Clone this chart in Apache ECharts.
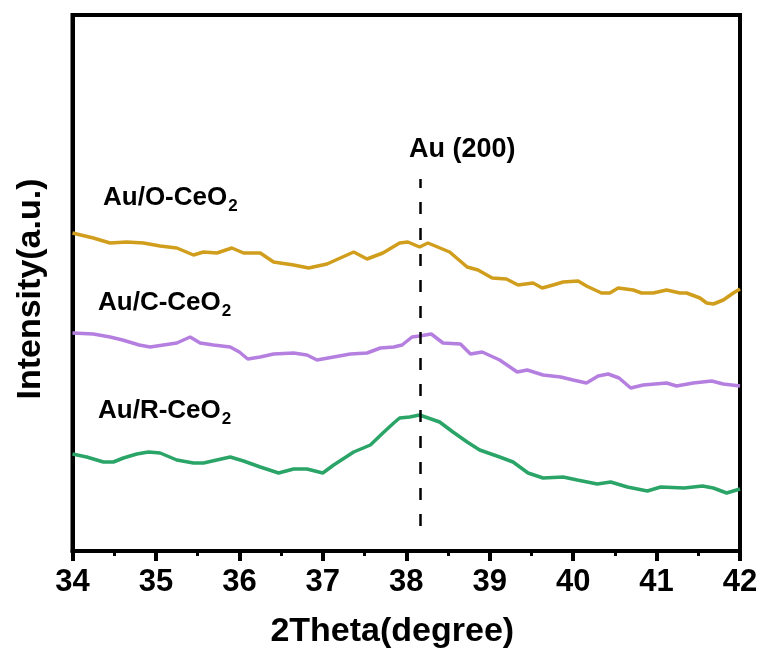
<!DOCTYPE html>
<html>
<head>
<meta charset="utf-8">
<script src="https://cdn.jsdelivr.net/npm/echarts@6/dist/echarts.min.js"></script>
<style>
html,body{margin:0;padding:0;background:#fff;}
#chart{width:764px;height:659px;}
</style>
</head>
<body>
<div id="chart"></div>
<script>
// 2Theta (degree) positions and intensities (a.u.)
var theta_O = [34.00,34.25,34.45,34.65,34.85,35.05,35.25,35.45,35.57,35.73,35.91,36.05,36.25,36.41,36.65,36.83,37.05,37.21,37.37,37.53,37.72,37.92,38.02,38.16,38.26,38.52,38.73,38.86,39.03,39.20,39.34,39.52,39.63,39.76,39.88,40.06,40.16,40.34,40.44,40.54,40.72,40.82,40.96,41.12,41.28,41.36,41.52,41.60,41.68,41.80,41.92,42.00];
var int_O   = [318,313,308,309,308,305,303,296,299,298,303,298,298,289,286,283,287,293,299,292,298,308,309,304,308,299,284,281,273,272,266,268,263,266,269,270,265,258,258,263,261,258,258,261,258,258,253,248,247,251,258,262];

var theta_C = [34.00,34.25,34.45,34.60,34.80,34.93,35.09,35.25,35.41,35.53,35.69,35.89,36.00,36.10,36.25,36.41,36.65,36.81,36.93,37.13,37.33,37.53,37.69,37.85,37.95,38.07,38.16,38.30,38.44,38.65,38.77,38.91,39.12,39.33,39.45,39.64,39.85,40.00,40.16,40.30,40.42,40.55,40.69,40.84,41.12,41.24,41.44,41.66,41.80,42.00];
var int_C   = [218,217,214,211,206,204,206,208,214,208,206,204,199,192,194,197,198,196,191,194,197,198,203,204,206,214,215,217,208,207,197,199,191,179,181,176,174,171,168,175,177,173,163,166,168,165,168,170,167,165];

var theta_R = [34.00,34.17,34.37,34.49,34.61,34.77,34.91,35.05,35.25,35.45,35.57,35.73,35.89,36.05,36.25,36.47,36.65,36.81,37.00,37.13,37.37,37.57,37.72,37.85,37.92,38.04,38.16,38.40,38.56,38.73,38.88,39.12,39.28,39.46,39.64,39.88,40.05,40.29,40.45,40.65,40.89,41.05,41.33,41.55,41.68,41.84,42.00];
var int_R   = [97,94,89,89,93,97,99,98,91,88,88,91,94,90,84,78,82,82,78,86,99,106,118,128,133,134,136,129,119,109,101,94,89,78,73,74,71,67,69,64,60,64,63,65,63,58,62];

var xTicks = [34,35,36,37,38,39,40,41,42];
var seriesNames = ['Au/O-CeO2','Au/C-CeO2','Au/R-CeO2'];
var peakTheta = 38.17;
var peakLineRange = [25, 372];
var peakLabel = 'Au (200)';

function pairs(xs, ys){ return xs.map(function(x,i){ return [x, ys[i]]; }); }

var FONT = "'Liberation Sans', Arial, Helvetica, sans-serif";
var chart = echarts.init(document.getElementById('chart'));

var subRich = {
  m: {fontSize: 26, fontWeight: 'bold', fontFamily: FONT, color: '#000', lineHeight: 30},
  s: {fontSize: 17, fontWeight: 'bold', fontFamily: FONT, color: '#000', lineHeight: 17, padding: [15,0,0,1], verticalAlign: 'top'}
};
function lbl(name, x, y){
  var base = name.slice(0, -1), sub = name.slice(-1);
  return {type: 'text', left: x, top: y, z: 100,
    style: {text: '{m|' + base + '}{s|' + sub + '}', rich: subRich}};
}

chart.setOption({
  animation: false,
  backgroundColor: '#fff',
  grid: {left: 72.5, right: 24, top: 15, bottom: 108, show: true, borderColor: '#000', borderWidth: 4, backgroundColor: 'transparent'},
  xAxis: {
    type: 'value', min: 34, max: 42, interval: 1,
    name: '2Theta(degree)', nameLocation: 'middle', nameGap: 64,
    nameTextStyle: {fontSize: 34, fontWeight: 'bold', fontFamily: FONT, color: '#000', padding: [0, 28, 0, 0]},
    axisLine: {show: true, lineStyle: {color: '#000', width: 4}},
    axisTick: {show: true, inside: false, length: 10, lineStyle: {color: '#000', width: 4}},
    minorTick: {show: true, splitNumber: 2, length: 5, lineStyle: {color: '#000', width: 3}},
    axisLabel: {fontSize: 31, fontWeight: 'bold', fontFamily: FONT, color: '#000', margin: 16,
      formatter: function(v){ return xTicks.indexOf(v) >= 0 ? String(v) : ''; }},
    splitLine: {show: false}
  },
  yAxis: {
    type: 'value', min: 0, max: 536,
    name: 'Intensity(a.u.)', nameLocation: 'middle', nameGap: 25,
    nameTextStyle: {fontSize: 34, fontWeight: 'bold', fontFamily: FONT, color: '#000', padding: [0, 12, 0, 0]},
    axisLine: {show: true, lineStyle: {color: '#000', width: 4}},
    axisTick: {show: false}, axisLabel: {show: false}, splitLine: {show: false}
  },
  series: [
    {name: seriesNames[0], type: 'line', data: pairs(theta_O, int_O), showSymbol: false, smooth: false,
     lineStyle: {color: '#D09E1C', width: 3.5}},
    {name: seriesNames[1], type: 'line', data: pairs(theta_C, int_C), showSymbol: false, smooth: false,
     lineStyle: {color: '#B57FE0', width: 3.5}},
    {name: seriesNames[2], type: 'line', data: pairs(theta_R, int_R), showSymbol: false, smooth: false,
     lineStyle: {color: '#2BA468', width: 3.5},
     markLine: {symbol: 'none', silent: true, label: {show: false},
       lineStyle: {color: '#000', width: 2.5, type: [12, 14]},
       data: [[{coord: [peakTheta, peakLineRange[0]]}, {coord: [peakTheta, peakLineRange[1]]}]]}}
  ],
  graphic: [
    lbl(seriesNames[0], 103, 183),
    lbl(seriesNames[1], 98, 288),
    lbl(seriesNames[2], 98, 396),
    {type: 'text', left: 409, top: 136, z: 100,
     style: {text: peakLabel, font: 'bold 27px ' + FONT, fill: '#000'}}
  ]
});
</script>
</body>
</html>
